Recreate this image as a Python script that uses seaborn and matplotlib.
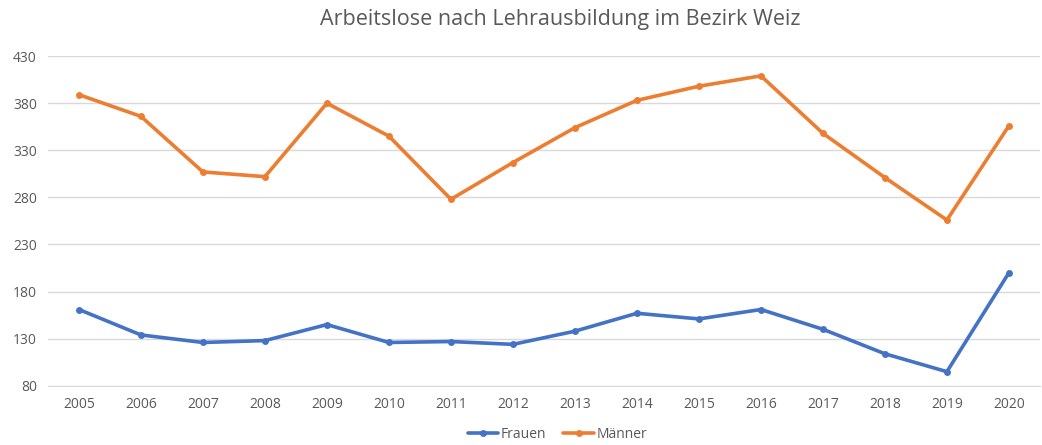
import matplotlib
matplotlib.use("Agg")
import matplotlib.pyplot as plt
import seaborn as sns
import pandas as pd

years = list(range(2005, 2021))
frauen = [161, 134, 126, 128, 145, 126, 127, 124, 138, 157, 151, 161, 140, 114, 95, 200]
maenner = [389, 366, 307, 302, 380, 345, 278, 317, 354, 383, 398, 409, 348, 301, 256, 356]
y_ticks = [80, 130, 180, 230, 280, 330, 380, 430]

df = pd.DataFrame({
    "Jahr": years * 2,
    "Anzahl": frauen + maenner,
    "Geschlecht": ["Frauen"] * len(years) + ["Männer"] * len(years),
})

sns.set_style("white")
plt.rcParams["font.family"] = ["Open Sans", "DejaVu Sans"]
text_color = "#595959"

fig = plt.figure(figsize=(10.42, 4.45), dpi=100)
ax = fig.add_axes([0.046, 0.133, 0.952, 0.741])

sns.lineplot(data=df, x="Jahr", y="Anzahl", hue="Geschlecht",
             palette={"Frauen": "#4472C4", "Männer": "#ED7D31"},
             marker="o", markersize=5, markeredgewidth=0, linewidth=2.6,
             ax=ax, legend=True)

ax.set_xlim(2004.5, 2020.5)
ax.set_ylim(80, 430)
ax.set_yticks(y_ticks)
ax.set_xticks(years)
ax.set_xticklabels([str(y) for y in years])
ax.grid(axis="y", color="#D9D9D9", linewidth=1)
ax.set_axisbelow(True)
for s in ["top", "right", "left"]:
    ax.spines[s].set_visible(False)
ax.spines["bottom"].set_color("#D9D9D9")
ax.tick_params(axis="both", length=0, labelsize=10, colors=text_color, pad=8)
ax.set_xlabel("")
ax.set_ylabel("")

fig.suptitle("Arbeitslose nach Lehrausbildung im Bezirk Weiz",
             x=0.538, y=0.98, fontsize=15.5, color=text_color)

handles, labels = ax.get_legend_handles_labels()
ax.legend_.remove()
fig.legend(handles, labels, loc="lower center", bbox_to_anchor=(0.535, -0.022),
           ncol=2, frameon=False, fontsize=10, labelcolor=text_color,
           handlelength=2.2, handletextpad=0.2, columnspacing=1.2)

fig.savefig("out.png", dpi=100)
plt.close(fig)
